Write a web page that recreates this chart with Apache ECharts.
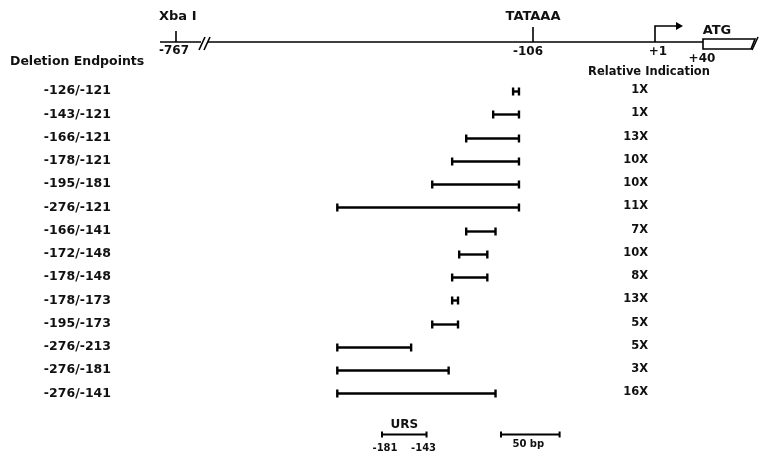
<!DOCTYPE html>
<html><head><meta charset="utf-8">
<script src="https://cdn.jsdelivr.net/npm/echarts@6/dist/echarts.min.js"></script>
<style>html,body{margin:0;padding:0;background:#fff}#c{width:759px;height:455px}</style>
</head><body><div id="c"></div>
<script>
// ---- data ----
const deletionLabels = ['-126/-121','-143/-121','-166/-121','-178/-121','-195/-181','-276/-121','-166/-141','-172/-148','-178/-148','-178/-173','-195/-173','-276/-213','-276/-181','-276/-141'];
const deletionStart = [-126,-143,-166,-178,-195,-276,-166,-172,-178,-178,-195,-276,-276,-276];
const deletionEnd   = [-121,-121,-121,-121,-121,-121,-141,-148,-148,-173,-173,-213,-181,-141];
const induction = ['1X','1X','13X','10X','10X','11X','7X','10X','8X','13X','5X','5X','3X','16X'];
const ursRange = [-181, -143];
const scaleBarBp = 50;

const FONT = 'DejaVu Sans';
const INK = '#000';
const TXT = '#111';
const chart = echarts.init(document.getElementById('c'), null, {renderer:'canvas'});

function capBar(x1, x2, y, h, lw) {
  return [
    {type:'line', shape:{x1:x1,y1:y,x2:x2,y2:y}, style:{stroke:INK,lineWidth:lw}},
    {type:'line', shape:{x1:x1,y1:y-h,x2:x1,y2:y+h}, style:{stroke:INK,lineWidth:lw}},
    {type:'line', shape:{x1:x2,y1:y-h,x2:x2,y2:y+h}, style:{stroke:INK,lineWidth:lw}}
  ];
}
function txt(t, x, y, size, align, weight) {
  return {type:'text', x:x, y:y, style:{text:t, font:(weight||'bold')+' '+size+'px "'+FONT+'"', fill:TXT, align:align||'left', verticalAlign:'middle'}};
}

const option = {
  animation:false,
  backgroundColor:'#fff',
  grid:{left:120, right:0, top:79.4, bottom:50.1, containLabel:false},
  xAxis:{type:'value', min:-461.4, max:83.8, show:false},
  yAxis:{type:'category', inverse:true, data:deletionLabels,
    axisLine:{show:false}, axisTick:{show:false}, splitLine:{show:false},
    axisLabel:{margin:9, color:TXT, fontFamily:FONT, fontSize:12.5, fontWeight:'bold'}},
  series:[
    {type:'custom', data:deletionStart.map((s,i)=>[s, deletionEnd[i], i]),
      renderItem:function(params, api){
        const s = api.coord([api.value(0), api.value(2)]);
        const e = api.coord([api.value(1), api.value(2)]);
        const y = Math.round(s[1]) + 0.5;
        return {type:'group', children: capBar(s[0], e[0], y, 4, 2.4).concat([
          txt(induction[params.dataIndex], 648, y - 1, 11.5, 'right')
        ])};
      }},
    {type:'custom', data:[[ursRange[0], ursRange[1], scaleBarBp]],
      renderItem:function(params, api){
        const ursLen = api.size([api.value(1) - api.value(0), 0])[0];
        const barLen = api.size([api.value(2), 0])[0];
        const ux = 382, bx = 501, y = 434.5;
        return {type:'group', children: capBar(ux, ux + ursLen, y, 3, 2).concat(
          capBar(bx, bx + barLen, y, 3, 2), [
          txt('URS', ux + ursLen/2, 425, 12),
          txt(String(ursRange[0]), ux + 3, 448, 10, 'center'),
          txt(String(ursRange[1]), ux + ursLen - 3, 448, 10, 'center'),
          txt(scaleBarBp + ' bp', bx + barLen/2 - 2, 444, 10, 'center')
        ].map(function(t, i){ if (i === 0) t.style.align = 'center'; return t; }))};
      }}
  ],
  graphic:[
    txt('Deletion Endpoints', 10, 62, 12.5, 'left'),
    // map line
    {type:'line', shape:{x1:160,y1:42,x2:201,y2:42}, style:{stroke:INK,lineWidth:1.6}},
    {type:'line', shape:{x1:199,y1:50,x2:205,y2:37}, style:{stroke:INK,lineWidth:1.6}},
    {type:'line', shape:{x1:204,y1:50,x2:210,y2:37}, style:{stroke:INK,lineWidth:1.6}},
    {type:'line', shape:{x1:208,y1:42,x2:703,y2:42}, style:{stroke:INK,lineWidth:1.6}},
    // XbaI
    {type:'line', shape:{x1:176,y1:31,x2:176,y2:42}, style:{stroke:INK,lineWidth:1.6}},
    txt('Xba I', 159, 17, 13, 'left'),
    txt('-767', 159, 51, 12, 'left'),
    // TATAAA
    {type:'line', shape:{x1:533,y1:27,x2:533,y2:42}, style:{stroke:INK,lineWidth:1.6}},
    txt('TATAAA', 533, 17, 13, 'center'),
    txt('-106', 528, 52, 12, 'center'),
    // transcription start arrow
    {type:'polyline', shape:{points:[[655,42],[655,26],[677,26]]}, style:{stroke:INK,lineWidth:1.6,fill:null}},
    {type:'polygon', shape:{points:[[676,22],[683,26],[676,30]]}, style:{fill:INK}},
    txt('+1', 658, 52, 12, 'center'),
    txt('+40', 702, 59, 12, 'center'),
    txt('Relative Indication', 649, 72, 11.5, 'center'),
    // ATG box
    txt('ATG', 717, 31, 13, 'center'),
    {type:'polygon', shape:{points:[[703,39],[755,39],[751,49],[703,49]]}, style:{fill:'#fff',stroke:INK,lineWidth:1.6}},
    {type:'line', shape:{x1:752,y1:50,x2:758,y2:37}, style:{stroke:INK,lineWidth:1.6}}
  ]
};
chart.setOption(option);
</script></body></html>
